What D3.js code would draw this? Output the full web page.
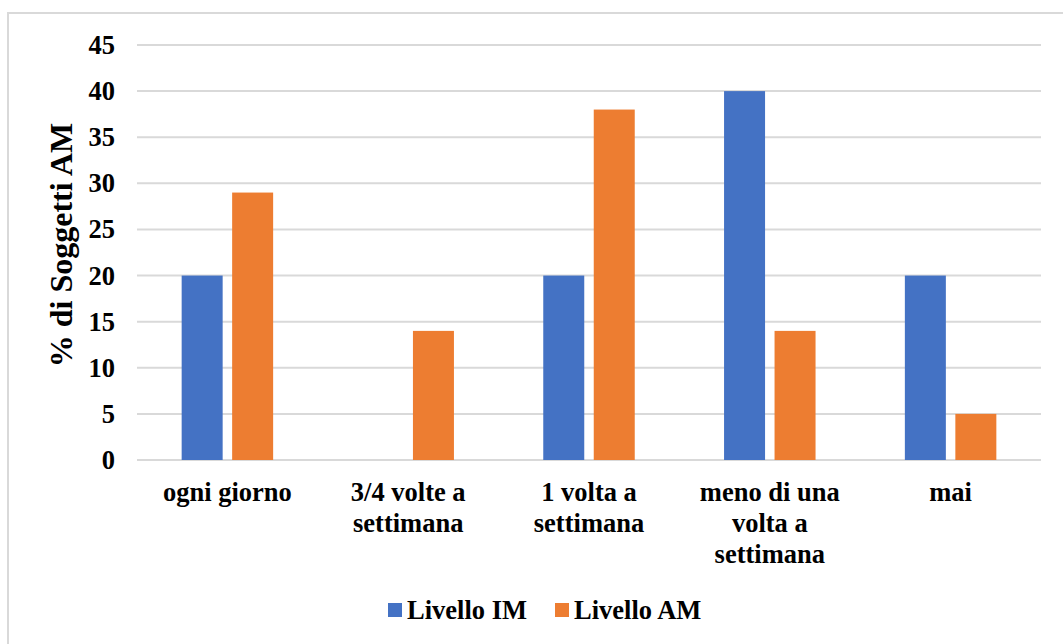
<!DOCTYPE html>
<html>
<head>
<meta charset="utf-8">
<script src="https://cdn.jsdelivr.net/npm/d3@7"></script>
<style>
  html, body { margin: 0; padding: 0; background: #fff; }
  svg { display: block; }
  text { font-family: "Liberation Serif", "Times New Roman", serif; font-weight: bold; fill: #000; }
</style>
</head>
<body>
<svg id="chart" width="1063" height="644"></svg>
<script>
// Frequency categories (wrapped lines separated by "\n")
const categories = [
  "ogni giorno",
  "3/4 volte a\nsettimana",
  "1 volta a\nsettimana",
  "meno di una\nvolta a\nsettimana",
  "mai"
];
const seriesNames = ["Livello IM", "Livello AM"];
const seriesColors = ["#4472C4", "#ED7D31"];
const valuesIM = [20, 0, 20, 40, 20];
const valuesAM = [29, 14, 38, 14, 5];
const yTicks = [0, 5, 10, 15, 20, 25, 30, 35, 40, 45];
const yTitle = "% di Soggetti AM";

const svg = d3.select("#chart");
const W = 1063, H = 644;
const labelSize = 26.5;

// Outer chart frame
svg.append("rect")
  .attr("x", 8).attr("y", 13)
  .attr("width", W + 10).attr("height", H + 10)
  .attr("fill", "#fff")
  .attr("stroke", "#d9d9d9").attr("stroke-width", 2);

const plot = { left: 137, right: 1041, top: 45, bottom: 460 };

const y = d3.scaleLinear().domain([0, 45]).range([plot.bottom, plot.top]);
const x0 = d3.scaleBand()
  .domain(categories)
  .range([plot.left, plot.right])
  .paddingInner(0.494)
  .paddingOuter(0.247);
const x1 = d3.scaleBand()
  .domain(seriesNames)
  .range([0, x0.bandwidth()])
  .paddingInner(0.188);

// Horizontal gridlines
svg.append("g")
  .selectAll("line")
  .data(yTicks)
  .join("line")
  .attr("x1", plot.left).attr("x2", plot.right)
  .attr("y1", d => y(d)).attr("y2", d => y(d))
  .attr("stroke", "#d9d9d9").attr("stroke-width", 2);

// Y tick labels
svg.append("g")
  .selectAll("text")
  .data(yTicks)
  .join("text")
  .attr("x", 115)
  .attr("y", d => y(d))
  .attr("dy", "0.34em")
  .attr("text-anchor", "end")
  .attr("font-size", labelSize)
  .text(d => d);

// Y axis title
svg.append("text")
  .attr("transform", "translate(72, 245) rotate(-90)")
  .attr("text-anchor", "middle")
  .attr("font-size", 32)
  .text(yTitle);

// Bars
const series = [valuesIM, valuesAM];
const groups = svg.append("g")
  .selectAll("g")
  .data(categories)
  .join("g")
  .attr("transform", d => `translate(${x0(d)},0)`);

groups.selectAll("rect")
  .data((d, i) => seriesNames.map((s, j) => ({ s, v: series[j][i], c: seriesColors[j] })))
  .join("rect")
  .attr("x", d => x1(d.s))
  .attr("width", x1.bandwidth())
  .attr("y", d => y(d.v))
  .attr("height", d => y(0) - y(d.v))
  .attr("fill", d => d.c);

// Category labels
const catLabels = svg.append("g")
  .selectAll("text")
  .data(categories)
  .join("text")
  .attr("text-anchor", "middle")
  .attr("font-size", labelSize)
  .attr("transform", d => `translate(${x0(d) + x0.bandwidth() / 2}, 501)`);
catLabels.selectAll("tspan")
  .data(d => d.split("\n"))
  .join("tspan")
  .attr("x", 0)
  .attr("y", (d, i) => i * 31)
  .text(d => d);

// Legend
const legendItems = [
  { name: seriesNames[0], color: seriesColors[0], x: 388 },
  { name: seriesNames[1], color: seriesColors[1], x: 555 }
];
const lg = svg.append("g")
  .selectAll("g")
  .data(legendItems)
  .join("g")
  .attr("transform", d => `translate(${d.x}, 603)`);
lg.append("rect")
  .attr("width", 14).attr("height", 14)
  .attr("fill", d => d.color);
lg.append("text")
  .attr("x", 19).attr("y", 16)
  .attr("font-size", labelSize)
  .text(d => d.name);
</script>
</body>
</html>
